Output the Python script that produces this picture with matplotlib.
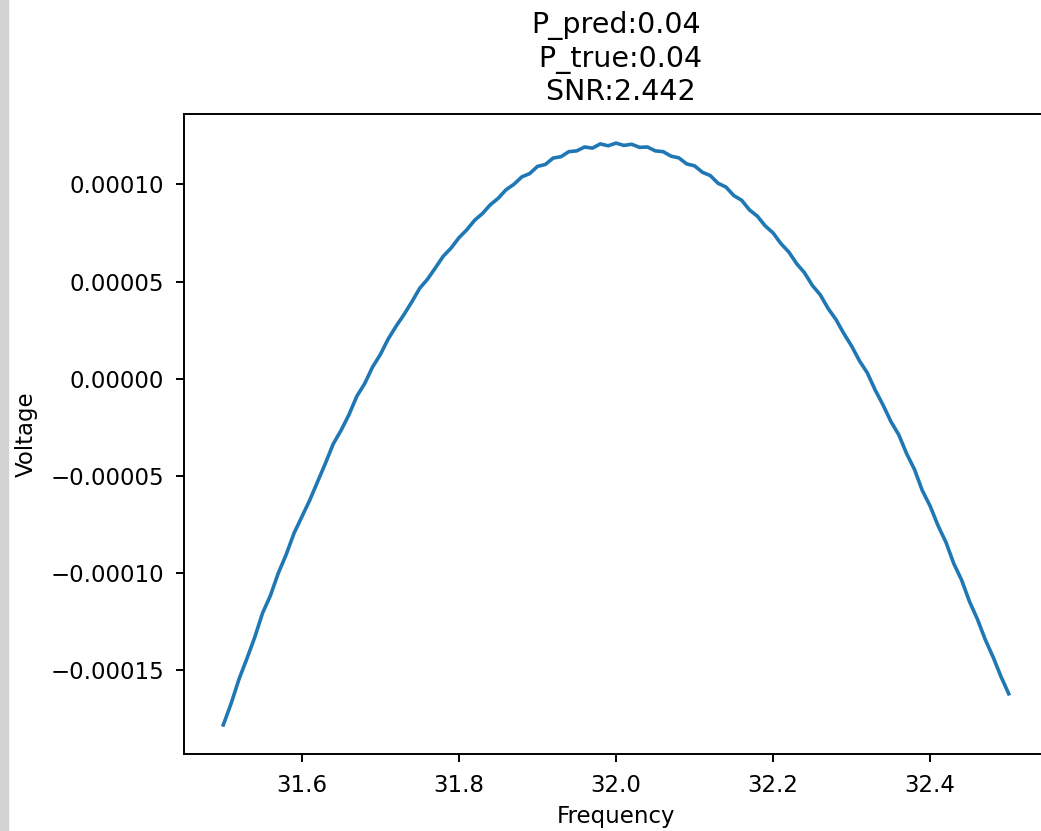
import numpy as np
import matplotlib
matplotlib.use("Agg")
import matplotlib.pyplot as plt
from matplotlib.patches import Rectangle

# frequency grid
freq = [
    31.50, 31.51, 31.52, 31.53, 31.54, 31.55, 31.56, 31.57, 31.58, 31.59,
    31.60, 31.61, 31.62, 31.63, 31.64, 31.65, 31.66, 31.67, 31.68, 31.69,
    31.70, 31.71, 31.72, 31.73, 31.74, 31.75, 31.76, 31.77, 31.78, 31.79,
    31.80, 31.81, 31.82, 31.83, 31.84, 31.85, 31.86, 31.87, 31.88, 31.89,
    31.90, 31.91, 31.92, 31.93, 31.94, 31.95, 31.96, 31.97, 31.98, 31.99,
    32.00, 32.01, 32.02, 32.03, 32.04, 32.05, 32.06, 32.07, 32.08, 32.09,
    32.10, 32.11, 32.12, 32.13, 32.14, 32.15, 32.16, 32.17, 32.18, 32.19,
    32.20, 32.21, 32.22, 32.23, 32.24, 32.25, 32.26, 32.27, 32.28, 32.29,
    32.30, 32.31, 32.32, 32.33, 32.34, 32.35, 32.36, 32.37, 32.38, 32.39,
    32.40, 32.41, 32.42, 32.43, 32.44, 32.45, 32.46, 32.47, 32.48, 32.49,
    32.50,
]
# voltage in units of 1e-5
voltage_e5 = [
    -17.80, -16.70, -15.45, -14.40, -13.30, -12.05, -11.15, -10.00, -9.05, -7.95,
    -7.10, -6.25, -5.30, -4.35, -3.35, -2.65, -1.85, -0.90, -0.25, 0.60,
    1.25, 2.05, 2.70, 3.30, 3.95, 4.65, 5.12, 5.70, 6.30, 6.72,
    7.25, 7.66, 8.15, 8.50, 8.95, 9.28, 9.72, 10.00, 10.38, 10.55,
    10.92, 11.02, 11.35, 11.42, 11.68, 11.72, 11.92, 11.86, 12.08, 11.98,
    12.12, 12.00, 12.06, 11.90, 11.92, 11.72, 11.68, 11.45, 11.36, 11.05,
    10.95, 10.62, 10.45, 10.05, 9.86, 9.42, 9.18, 8.68, 8.36, 7.86,
    7.50, 6.95, 6.52, 5.92, 5.45, 4.80, 4.32, 3.62, 3.05, 2.33,
    1.68, 0.92, 0.30, -0.58, -1.35, -2.20, -2.88, -3.85, -4.66, -5.75,
    -6.55, -7.55, -8.40, -9.50, -10.35, -11.45, -12.35, -13.40, -14.30, -15.30,
    -16.20,
]
p_pred, p_true, snr = 0.04, 0.04, 2.442

W, H = 1041, 831
fig = plt.figure(figsize=(W / 100, H / 100), dpi=100)
# grey window border on the left of the screenshot
fig.patches.append(Rectangle((0, 0), 8 / W, 1, transform=fig.transFigure,
                             color="#d2d2d2", zorder=0))

ax = fig.add_axes([184 / W, 1 - 754 / H, 864 / W, 640 / H])
ax.plot(freq, np.array(voltage_e5) * 1e-5, color="#1f77b4", lw=2.6)
ax.set_xticks([31.6, 31.8, 32.0, 32.2, 32.4])
ax.set_yticks([-0.00015, -0.0001, -0.00005, 0.0, 0.00005, 0.0001])
ax.set_yticklabels(["\u22120.00015", "\u22120.00010", "\u22120.00005",
                    "0.00000", "0.00005", "0.00010"])
ax.tick_params(labelsize=16.5, length=6, width=1.4, pad=8.5)
for s in ax.spines.values():
    s.set_linewidth(1.4)
ax.set_xlabel("Frequency", fontsize=16.5, labelpad=6)
ax.set_ylabel("Voltage", fontsize=16.5, labelpad=9)
ax.set_title(f"P_pred:{p_pred}\n P_true:{p_true}\n SNR:{snr}", fontsize=20.5,
             pad=10)

fig.savefig("out.png", dpi=100)
